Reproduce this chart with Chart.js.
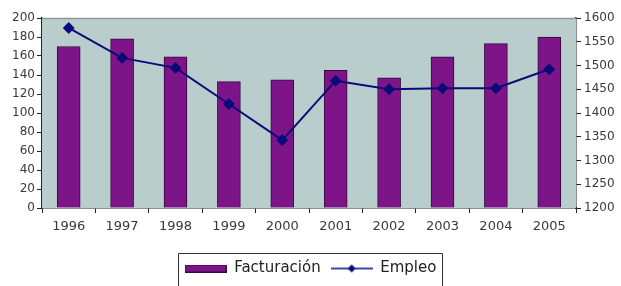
<!DOCTYPE html>
<html>
<head>
<meta charset="utf-8">
<script src="https://cdn.jsdelivr.net/npm/chart.js@4/dist/chart.umd.min.js"></script>
<style>
  html, body { margin: 0; padding: 0; background: #ffffff; }
  #wrap { width: 621px; height: 286px; position: relative; }
</style>
</head>
<body>
<div id="wrap"><canvas id="c" width="621" height="286"></canvas></div>
<script>
const years = ['1996','1997','1998','1999','2000','2001','2002','2003','2004','2005'];
const facturacion = [170, 178, 159, 133, 135, 145, 137, 159, 173, 180];
const empleo = [1579, 1516, 1495, 1419, 1343, 1468, 1450, 1452, 1452, 1492];
const leftTicks = [0, 20, 40, 60, 80, 100, 120, 140, 160, 180, 200];
const rightTicks = [1200, 1250, 1300, 1350, 1400, 1450, 1500, 1550, 1600];
const seriesNames = ['Facturación', 'Empleo'];

const BAR_COLOR = '#7d1488';
const BAR_BORDER = '#35093d';
const LINE_COLOR = '#0a0a78';
const TEXT_COLOR = '#3a3a3a';
const AXIS_COLOR = '#222222';
const PLOT_BG = '#b9cecc';

function barSwatch() {
  const c = document.createElement('canvas');
  c.width = 42; c.height = 8;
  const x = c.getContext('2d');
  x.fillStyle = BAR_COLOR; x.fillRect(0, 0, 42, 8);
  x.strokeStyle = BAR_BORDER; x.lineWidth = 1; x.strokeRect(0.5, 0.5, 41, 7);
  return c;
}
function lineSwatch() {
  const c = document.createElement('canvas');
  c.width = 42; c.height = 10;
  const x = c.getContext('2d');
  x.strokeStyle = LINE_COLOR; x.lineWidth = 1.5;
  x.beginPath(); x.moveTo(0, 5); x.lineTo(42, 5); x.stroke();
  x.fillStyle = LINE_COLOR;
  x.beginPath(); x.moveTo(21, 1); x.lineTo(25, 5); x.lineTo(21, 9); x.lineTo(17, 5); x.closePath(); x.fill();
  return c;
}

const plotDeco = {
  id: 'plotDeco',
  beforeDatasetsDraw(chart) {
    const a = chart.chartArea, ctx = chart.ctx;
    ctx.save();
    ctx.fillStyle = PLOT_BG;
    ctx.fillRect(a.left, a.top, a.right - a.left, a.bottom - a.top);
    ctx.strokeStyle = '#8a9a98';
    ctx.lineWidth = 1.5;
    ctx.beginPath(); ctx.moveTo(a.left, a.top + 0.5); ctx.lineTo(a.right, a.top + 0.5); ctx.stroke();
    ctx.restore();
  },
  afterDraw(chart) {
    const lg = chart.legend;
    if (!lg || !lg.legendHitBoxes || !lg.legendHitBoxes.length) return;
    const hb = lg.legendHitBoxes;
    const first = hb[0], last = hb[hb.length - 1];
    const ctx = chart.ctx;
    ctx.save();
    ctx.strokeStyle = '#333333';
    ctx.lineWidth = 1;
    const l = Math.round(first.left - 7) + 0.5;
    const r = Math.round(last.left + last.width + 6) + 0.5;
    const t = 253.5;
    ctx.beginPath();
    ctx.moveTo(l, 300); ctx.lineTo(l, t); ctx.lineTo(r, t); ctx.lineTo(r, 300);
    ctx.stroke();
    ctx.restore();
  }
};

new Chart(document.getElementById('c'), {
  type: 'bar',
  data: {
    labels: years,
    datasets: [
      {
        type: 'bar',
        label: seriesNames[0],
        data: facturacion,
        yAxisID: 'y',
        backgroundColor: BAR_COLOR,
        borderColor: BAR_BORDER,
        borderWidth: 1,
        barThickness: 23,
        order: 2
      },
      {
        type: 'line',
        label: seriesNames[1],
        data: empleo,
        yAxisID: 'y1',
        borderColor: LINE_COLOR,
        backgroundColor: LINE_COLOR,
        borderWidth: 2,
        pointStyle: 'rectRot',
        pointRadius: 4.5,
        pointBackgroundColor: LINE_COLOR,
        pointBorderColor: LINE_COLOR,
        tension: 0,
        order: 1
      }
    ]
  },
  options: {
    responsive: false,
    animation: false,
    devicePixelRatio: 1,
    layout: { padding: { top: 18, left: 0, right: 0, bottom: 0 } },
    plugins: {
      tooltip: { enabled: false },
      legend: {
        position: 'bottom',
        labels: {
          usePointStyle: true,
          pointStyleWidth: 42,
          padding: 10,
          color: '#222222',
          font: { family: 'DejaVu Sans', size: 15 },
          generateLabels: () => [
            { text: seriesNames[0], pointStyle: barSwatch(), fillStyle: BAR_COLOR, strokeStyle: BAR_BORDER, lineWidth: 0, datasetIndex: 0, hidden: false, fontColor: '#222' },
            { text: seriesNames[1], pointStyle: lineSwatch(), fillStyle: LINE_COLOR, strokeStyle: LINE_COLOR, lineWidth: 0, datasetIndex: 1, hidden: false, fontColor: '#222' }
          ]
        }
      }
    },
    scales: {
      x: {
        offset: true,
        grid: { offset: true, drawOnChartArea: false, drawTicks: true, tickLength: 5, color: AXIS_COLOR },
        border: { display: true, color: AXIS_COLOR, width: 1.5 },
        ticks: { color: TEXT_COLOR, font: { family: 'DejaVu Sans', size: 13 }, maxRotation: 0, padding: 6 },
        afterFit(s) {
          const lh = s.chart.legend ? s.chart.legend.height : 34;
          s.height = 286 - 208 - lh;
        }
      },
      y: {
        position: 'left',
        min: 0, max: 200,
        afterBuildTicks(s) { s.ticks = leftTicks.map(v => ({ value: v })); },
        grid: { drawOnChartArea: false, drawTicks: true, tickLength: 5, color: AXIS_COLOR },
        border: { display: true, color: AXIS_COLOR, width: 1.5 },
        ticks: { color: TEXT_COLOR, font: { family: 'DejaVu Sans', size: 12 }, padding: 2 },
        afterFit(s) { s.width = 42; }
      },
      y1: {
        position: 'right',
        min: 1200, max: 1600,
        afterBuildTicks(s) { s.ticks = rightTicks.map(v => ({ value: v })); },
        grid: { drawOnChartArea: false, drawTicks: true, tickLength: 5, color: AXIS_COLOR },
        border: { display: true, color: AXIS_COLOR, width: 1.5 },
        ticks: { color: TEXT_COLOR, font: { family: 'DejaVu Sans', size: 12 }, padding: 3, callback: v => String(v) },
        afterFit(s) { s.width = 45; }
      }
    }
  },
  plugins: [plotDeco]
});
</script>
</body>
</html>
